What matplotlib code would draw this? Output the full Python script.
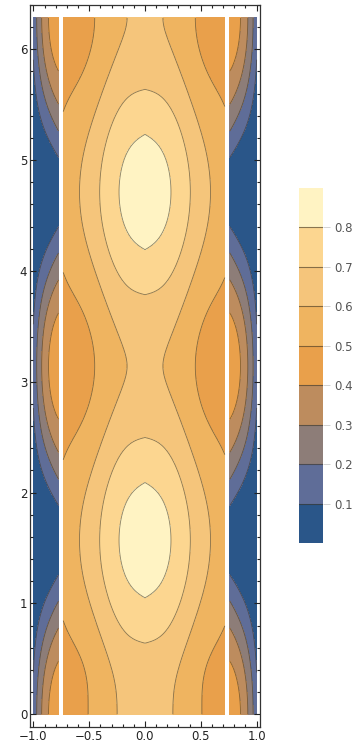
import numpy as np
import matplotlib
matplotlib.use("Agg")
import matplotlib.pyplot as plt
from matplotlib.colors import ListedColormap, BoundaryNorm

# ---- contour levels / colours ----
levels = [0.0, 0.1, 0.2, 0.3, 0.4, 0.5, 0.6, 0.7, 0.8, 0.9]
band_colors = ["#2a5689", "#5f6d98", "#8d7d78", "#bd8c5e", "#e9a04b",
               "#efb460", "#f5c57b", "#fcd690", "#fff3c3"]
cbar_ticks = [0.1, 0.2, 0.3, 0.4, 0.5, 0.6, 0.7, 0.8]
x_ticks = [-1.0, -0.5, 0.0, 0.5, 1.0]
y_ticks = [0, 1, 2, 3, 4, 5, 6]

# ---- surface model ----
inner_base = 0.45       # value of the side lobes
inner_bump = 0.158      # extra height on the centre line
inner_width = 0.43
inner_power = 3.0
amp_centre = 0.255      # sin^2(y) modulation amplitude at x = 0
amp_slope = 0.17
amp_quart = 0.15
bottom_lift = 0.02      # slightly higher values along the lower edge
outer_edge_value = 0.12  # outer strips: value at |x| = 1, y = 0
outer_gap_value = 0.47   # outer strips: value next to the gap, y = 0
outer_pow_edge = 2.5
outer_pow_gap = 1.2
gap_left = -0.754        # discontinuities (white excluded bands)
gap_right = 0.738
gap_half = 0.021


def surface(x, y):
    ax_ = np.abs(x)
    base = inner_base + inner_bump * np.exp(-(ax_ / inner_width) ** inner_power)
    amp = amp_centre - amp_slope * ax_ - amp_quart * ax_ ** 4
    inner = base + amp * np.sin(y) ** 2 + bottom_lift * np.exp(-(y / 0.35) ** 2)
    x0 = np.where(x < 0, -gap_left, gap_right)
    t = np.clip((1 - ax_) / (1 - x0), 0, 1)
    c = outer_edge_value + (outer_gap_value - outer_edge_value) * (1 - (1 - t) ** 2)
    p = outer_pow_edge + (outer_pow_gap - outer_pow_edge) * t
    outer = c * np.abs(np.cos(y)) ** p
    inside = (x > gap_left) & (x < gap_right)
    z = np.where(inside, inner, outer)
    mask = (np.abs(x - gap_left) < gap_half) | (np.abs(x - gap_right) < gap_half)
    return np.ma.array(z, mask=mask)


xs = np.linspace(-1, 1, 801)
ys = np.linspace(0, 2 * np.pi, 1201)
X, Y = np.meshgrid(xs, ys)
Z = surface(X, Y)

W, H = 359, 752
fig = plt.figure(figsize=(W / 100, H / 100), dpi=100)
ax = fig.add_axes([30 / W, 1 - 727 / H, 230 / W, 722 / H])

cmap = ListedColormap(band_colors)
norm = BoundaryNorm(levels, cmap.N)
ax.contourf(X, Y, Z, levels=levels, cmap=cmap, norm=norm)
ax.contour(X, Y, Z, levels=levels[1:-1], colors="#3c3424", linewidths=0.6, alpha=0.6)

ax.set_xlim(-1.03, 1.03)
ax.set_ylim(-0.115, 6.40)
ax.set_xticks(x_ticks)
ax.set_xticklabels(["\u22121.0", "\u22120.5", "0.0", "0.5", "1.0"])
ax.set_yticks(y_ticks)
ax.set_xticks(np.arange(-1.0, 1.01, 0.1), minor=True)
ax.set_yticks(np.arange(0, 6.41, 0.2), minor=True)
ax.tick_params(which="both", direction="in", top=True, right=True,
               labelsize=8.5, colors="#222222", width=0.8)
ax.tick_params(which="major", length=4.5, pad=2)
ax.tick_params(which="minor", length=2.5)
for s in ax.spines.values():
    s.set_linewidth(0.9)
    s.set_color("#333333")

# ---- colour bar ----
cax = fig.add_axes([299 / W, 1 - 543 / H, 24 / W, 355 / H])
for i, col in enumerate(band_colors):
    cax.axhspan(levels[i], levels[i + 1], color=col, lw=0)
for lv in cbar_ticks:
    cax.axhline(lv, color="#3c3424", lw=0.8, alpha=0.6)
cax.set_ylim(levels[0], levels[-1])
cax.set_xlim(0, 1)
cax.set_xticks([])
cax.yaxis.tick_right()
cax.set_yticks(cbar_ticks)
cax.set_yticklabels([f"{v:.1f}" for v in cbar_ticks])
cax.tick_params(axis="y", length=5, width=0.6, colors="#cccccc",
                labelcolor="#555555", labelsize=8.5, pad=3)
for s in cax.spines.values():
    s.set_visible(False)

fig.savefig("out.png", dpi=100)
